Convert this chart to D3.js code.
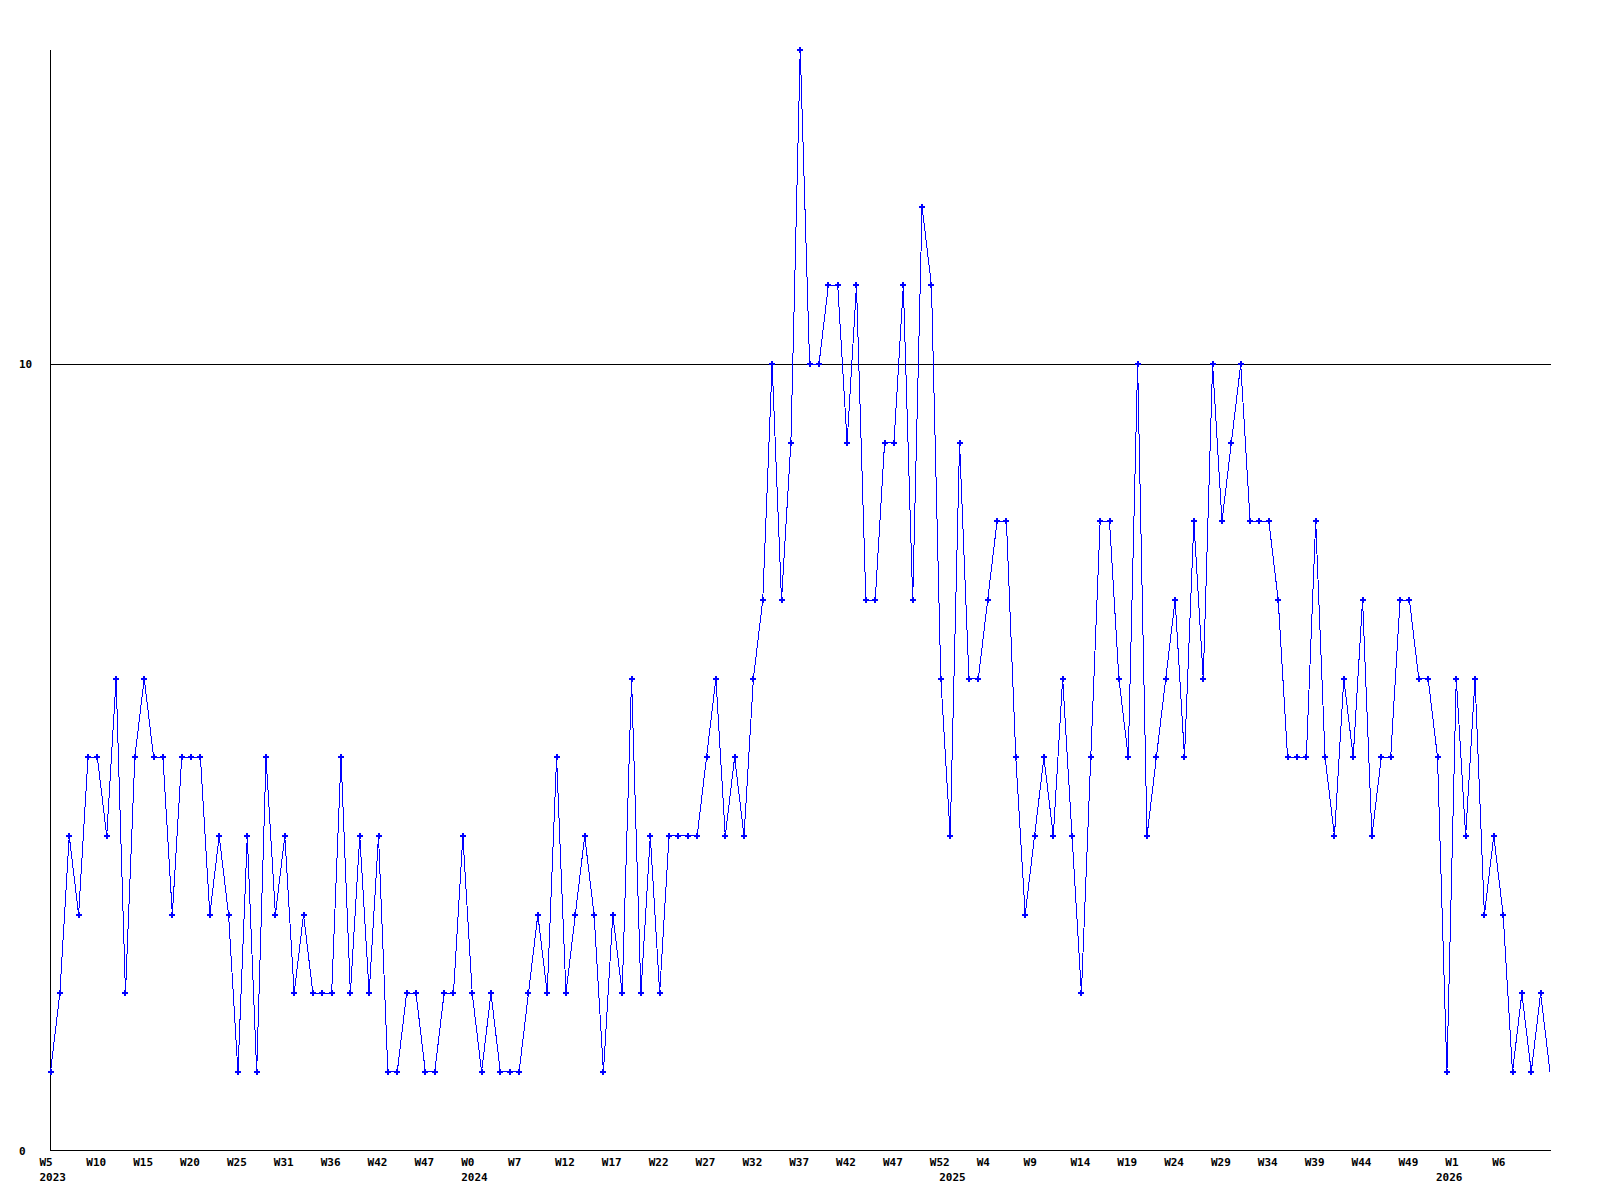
<!DOCTYPE html>
<html>
<head>
<meta charset="utf-8">
<script src="https://cdn.jsdelivr.net/npm/d3@7"></script>
<style>
  body { margin: 0; background: #fff; }
  text { font-family: "DejaVu Sans Mono", "Liberation Mono", monospace; font-weight: bold; font-size: 11px; fill: #000; }
</style>
</head>
<body>
<svg class="chart" width="1600" height="1200"></svg>
<script>
// Weekly counts, 2023 W5 onwards
const counts = [
  1, 2, 4, 3, 5, 5, 4, 6, 2, 5,
  6, 5, 5, 3, 5, 5, 5, 3, 4, 3,
  1, 4, 1, 5, 3, 4, 2, 3, 2, 2,
  2, 5, 2, 4, 2, 4, 1, 1, 2, 2,
  1, 1, 2, 2, 4, 2, 1, 2, 1, 1,
  1, 2, 3, 2, 5, 2, 3, 4, 3, 1,
  3, 2, 6, 2, 4, 2, 4, 4, 4, 4,
  5, 6, 4, 5, 4, 6, 7, 10, 7, 9,
  14, 10, 10, 11, 11, 9, 11, 7, 7, 9,
  9, 11, 7, 12, 11, 6, 4, 9, 6, 6,
  7, 8, 8, 5, 3, 4, 5, 4, 6, 4,
  2, 5, 8, 8, 6, 5, 10, 4, 5, 6,
  7, 5, 8, 6, 10, 8, 9, 10, 8, 8,
  8, 7, 5, 5, 5, 8, 5, 4, 6, 5,
  7, 4, 5, 5, 7, 7, 6, 6, 5, 1,
  6, 4, 6, 3, 4, 3, 1, 2, 1, 2,
  1
];

// x labels, one every 5 points
const weekLabels = ["W5", "W10", "W15", "W20", "W25", "W31", "W36", "W42", "W47", "W0",
  "W7", "W12", "W17", "W22", "W27", "W32", "W37", "W42", "W47", "W52",
  "W4", "W9", "W14", "W19", "W24", "W29", "W34", "W39", "W44", "W49",
  "W1", "W6"];
const labelStep = 5;

// year labels and the point where each year starts
const years = ["2023", "2024", "2025", "2026"];
const yearStart = [0, 45, 96, 149];

const yTicks = [0, 10];
const yMax = 14;

// plot area
const plot = { left: 50.5, right: 1550.5, top: 49.5, bottom: 1150.5 };

const svg = d3.select(".chart");

const x = d3.scaleLinear().domain([0, counts.length - 1]).range([plot.left, plot.right - 0.5]);
const y = d3.scaleLinear().domain([0, yMax]).range([plot.bottom, plot.top]);

// grid line at 10
svg.selectAll(".grid")
  .data(yTicks.filter((d) => d > 0))
  .enter()
  .append("line")
  .attr("class", "grid")
  .attr("x1", plot.left)
  .attr("x2", plot.right)
  .attr("y1", (d) => Math.round(y(d)) + 0.5)
  .attr("y2", (d) => Math.round(y(d)) + 0.5)
  .attr("stroke", "#000")
  .attr("shape-rendering", "crispEdges");

// axes
svg.append("line")
  .attr("x1", plot.left).attr("x2", plot.left)
  .attr("y1", plot.top).attr("y2", plot.bottom)
  .attr("stroke", "#000").attr("shape-rendering", "crispEdges");
svg.append("line")
  .attr("x1", plot.left).attr("x2", plot.right)
  .attr("y1", plot.bottom).attr("y2", plot.bottom)
  .attr("stroke", "#000").attr("shape-rendering", "crispEdges");

// y labels
svg.selectAll(".y-label")
  .data(yTicks)
  .enter()
  .append("text")
  .attr("class", "y-label")
  .attr("x", 19)
  .attr("y", (d) => y(d) + 4)
  .text((d) => d);

// week labels
svg.selectAll(".x-label")
  .data(weekLabels)
  .enter()
  .append("text")
  .attr("class", "x-label")
  .attr("x", (d, i) => x(i * labelStep) - 11)
  .attr("y", 1166)
  .text((d) => d);

// year labels
svg.selectAll(".year-label")
  .data(years)
  .enter()
  .append("text")
  .attr("class", "year-label")
  .attr("x", (d, i) => x(yearStart[i]) - 11)
  .attr("y", 1181)
  .text((d) => d);

// the line
const line = d3.line()
  .x((d, i) => x(i))
  .y((d) => y(d));

svg.append("path")
  .datum(counts)
  .attr("d", line)
  .attr("fill", "none")
  .attr("stroke", "#0000ff")
  .attr("stroke-width", 1)
  .attr("shape-rendering", "crispEdges");

// point markers (the last one sits on the edge and is not drawn)
svg.selectAll(".marker")
  .data(counts.slice(0, -1))
  .enter()
  .append("path")
  .attr("class", "marker")
  .attr("transform", (d, i) => `translate(${x(i)}, ${y(d)})`)
  .attr("d", d3.symbol().type(d3.symbolCross).size(20))
  .attr("fill", "#0000ff")
  .attr("shape-rendering", "crispEdges");
</script>
</body>
</html>
